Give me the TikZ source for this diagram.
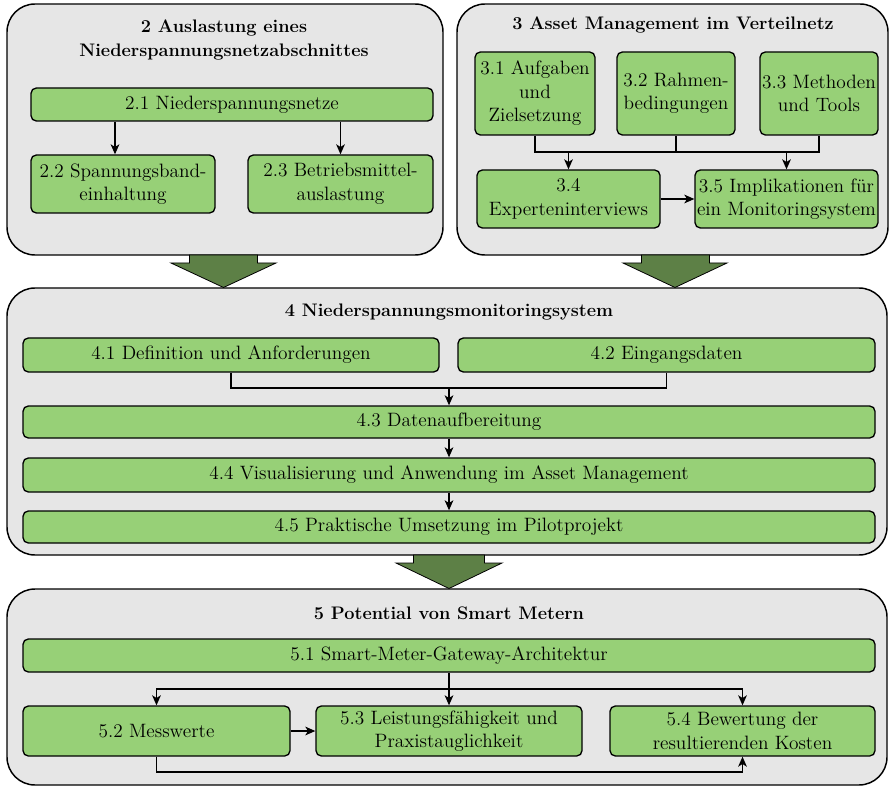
\documentclass[tikz,border=0pt]{standalone}
\usetikzlibrary{arrows.meta,calc}
\definecolor{panelgray}{HTML}{E6E6E6}
\definecolor{boxgreen}{HTML}{97D077}
\definecolor{bigarrow}{HTML}{5D8046}
\tikzset{
  wh/.style 2 args={minimum width=#1*0.75pt, minimum height=#2*0.75pt},
  panel/.style={draw=black, line width=1.1pt, fill=panelgray, rounded corners=21pt, inner sep=0pt},
  gbox/.style={draw=black, line width=1pt, fill=boxgreen, rounded corners=4pt, inner sep=1pt, align=center,
    font=\fontsize{14.5}{17.6}\selectfont},
  ptitle/.style={align=center, font=\fontsize{13.6}{18}\selectfont\bfseries, inner sep=0pt},
  conn/.style={draw=black, line width=1.05pt},
  arr/.style={conn, -{Stealth[length=7.5pt,width=6.5pt,inset=2pt]}},
  fatarrow/.style={draw=black, line width=0.6pt, fill=bigarrow, line join=miter}
}
\begin{document}
\begin{tikzpicture}[x=0.75pt,y=-0.75pt]
\useasboundingbox (0,0) rectangle (891,787);

% panels
\node[panel, wh={436}{251}] (p2) at (225,129.5) {};
\node[panel, wh={431}{251}] (p3) at (672.5,129.5) {};
\node[panel, wh={880}{267}] (p4) at (447,421.5) {};
\node[panel, wh={880}{196}] (p5) at (447,687) {};

% big arrows
\draw[fatarrow] (189.5,255) -- (257.5,255) -- (257.5,263) -- (276,263) -- (223.5,287.5) -- (171,263) -- (189.5,263) -- cycle;
\draw[fatarrow] (641.5,255) -- (709.5,255) -- (709.5,263) -- (727,263) -- (675,287.5) -- (623,263) -- (641.5,263) -- cycle;
\draw[fatarrow] (413.5,555) -- (484.5,555) -- (484.5,563) -- (502,563) -- (449,588.5) -- (396,563) -- (413.5,563) -- cycle;

% titles
\node[ptitle] (t2) at (224,40) {2 Auslastung eines\\Niederspannungsnetzabschnittes};
\node[ptitle] (t3) at (673,25) {3 Asset Management im Verteilnetz};
\node[ptitle] (t4) at (449,312) {4 Niederspannungsmonitoringsystem};
\node[ptitle] (t5) at (449,613) {5 Potential von Smart Metern};

% section 2
\node[gbox, wh={402}{33}] (n21) at (232,104.5) {2.1 Niederspannungsnetze};
\node[gbox, wh={184}{58}] (n22) at (123,184) {2.2 Spannungsband-\\einhaltung};
\node[gbox, wh={185}{58}] (n23) at (340.5,184) {2.3 Betriebsmittel-\\auslastung};

% section 3
\node[gbox, wh={120}{83}] (n31) at (535,93.5) {3.1 Aufgaben\\und\\Zielsetzung};
\node[gbox, wh={118}{83}] (n32) at (676,93.5) {3.2 Rahmen-\\bedingungen};
\node[gbox, wh={118}{83}] (n33) at (819,93.5) {3.3 Methoden\\und Tools};
\node[gbox, wh={183}{58}] (n34) at (568.5,199) {3.4\\Experteninterviews};
\node[gbox, wh={183}{58}] (n35) at (786.5,199) {3.5 Implikationen für\\ein Monitoringsystem};

% section 4
\node[gbox, wh={416}{34}] (n41) at (231,355) {4.1 Definition und Anforderungen};
\node[gbox, wh={417}{34}] (n42) at (666.5,355) {4.2 Eingangsdaten};
\node[gbox, wh={852}{32}] (n43) at (449,422) {4.3 Datenaufbereitung};
\node[gbox, wh={852}{34}] (n44) at (449,475) {4.4 Visualisierung und Anwendung im Asset Management};
\node[gbox, wh={852}{32}] (n45) at (449,527) {4.5 Praktische Umsetzung im Pilotprojekt};

% section 5
\node[gbox, wh={852}{33}] (n51) at (449,655.5) {5.1 Smart-Meter-Gateway-Architektur};
\node[gbox, wh={267}{50}] (n52) at (156.5,731) {5.2 Messwerte};
\node[gbox, wh={266}{50}] (n53) at (449,731) {5.3 Leistungsfähigkeit und\\Praxistauglichkeit};
\node[gbox, wh={265}{50}] (n54) at (742.5,731) {5.4 Bewertung der\\resultierenden Kosten};

% connectors section 2
\coordinate (a22) at ([xshift=-6pt]n22.north);
\draw[arr] (a22 |- n21.south) -- (a22);
\draw[arr] (n23.north |- n21.south) -- (n23.north);

% connectors section 3
\coordinate (j3) at (676,152);
\draw[conn] (n31.south) |- (j3) -| (n33.south);
\draw[conn] (n32.south) -- (j3);
\draw[arr] (n34.north |- j3) -- (n34.north);
\draw[arr] (n35.north |- j3) -- (n35.north);
\draw[arr] (n34.east) -- (n35.west);

% connectors section 4
\coordinate (j4) at (449,388);
\draw[conn] (n41.south) |- (j4) -| (n42.south);
\draw[arr] (j4) -- (n43.north);
\draw[arr] (n43.south) -- (n44.north);
\draw[arr] (n44.south) -- (n45.north);

% connectors section 5
\coordinate (j5) at (449,689);
\coordinate (b5) at (449,772);
\draw[arr] (n53.north |- n51.south) -- (n53.north);
\draw[arr] (j5) -| (n52.north);
\draw[arr] (j5) -| (n54.north);
\draw[arr] (n52.east) -- (n53.west);
\draw[arr] (n52.south) |- (b5) -| (n54.south);
\end{tikzpicture}
\end{document}
